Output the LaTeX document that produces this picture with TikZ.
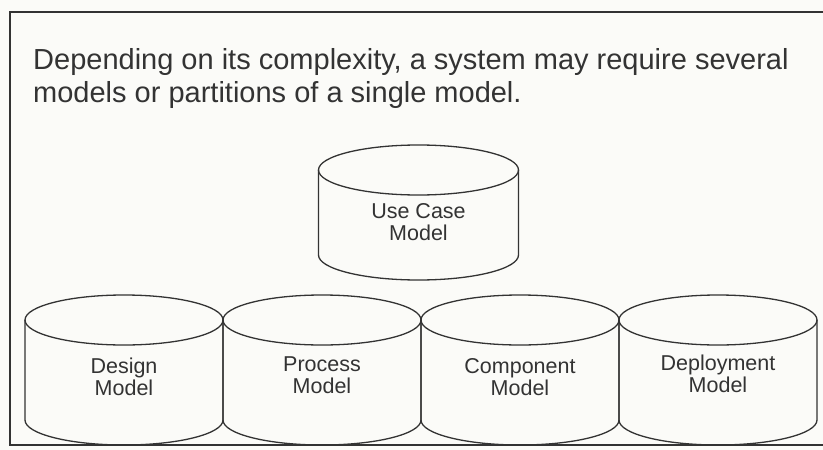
\documentclass[tikz,border=0pt]{standalone}
\usepackage{fontspec}
\setmainfont{Liberation Sans}
\definecolor{ink}{HTML}{333333}
\definecolor{paper}{HTML}{FBFBF8}
\tikzset{
  cylline/.style={draw=ink, line width=1.3pt},
  frameline/.style={draw=ink, line width=1.6pt},
  cyltext/.style={text=ink, align=center, inner sep=0pt, font=\fontsize{21.5}{22}\selectfont},
  headtext/.style={text=ink, align=left, inner sep=0pt, anchor=base west, font=\fontsize{29}{33}\selectfont}
}
\newcommand\drawcyl[5]{%
  \draw[cylline] (#1-#4,#2) -- (#1-#4,#3) arc[start angle=180,end angle=360,x radius=#4,y radius=#5] -- (#1+#4,#2);
  \draw[cylline] (#1,#2) ellipse[x radius=#4, y radius=#5];
}
\begin{document}
\begin{tikzpicture}[x=1pt,y=1pt]
\fill[paper] (0,0) rectangle (823,-450);
\useasboundingbox (0,0) rectangle (823,-450);
% frame
\draw[frameline] (823,-12) -- (10,-12) -- (10,-445) -- (823,-445);
% heading (base anchor = baseline of the last line)
\node[headtext] (head) at (33,-102) {Depending on its complexity, a system may require several\\models or partitions of a single model.};
% use case cylinder
\drawcyl{418.5}{-170}{-255}{100}{25}
\node[cyltext] (usecase) at (418.5,-222) {Use Case\\Model};
% bottom row
\drawcyl{124}{-320}{-420}{99}{25}
\drawcyl{322}{-320}{-420}{99}{25}
\drawcyl{520}{-320}{-420}{99}{25}
\drawcyl{718}{-320}{-420}{99}{25}
\node[cyltext] (design) at (124,-377) {Design\\Model};
\node[cyltext] (process) at (322,-375) {Process\\Model};
\node[cyltext] (component) at (520,-377) {Component\\Model};
\node[cyltext] (deployment) at (718,-374) {Deployment\\Model};
\end{tikzpicture}
\end{document}
